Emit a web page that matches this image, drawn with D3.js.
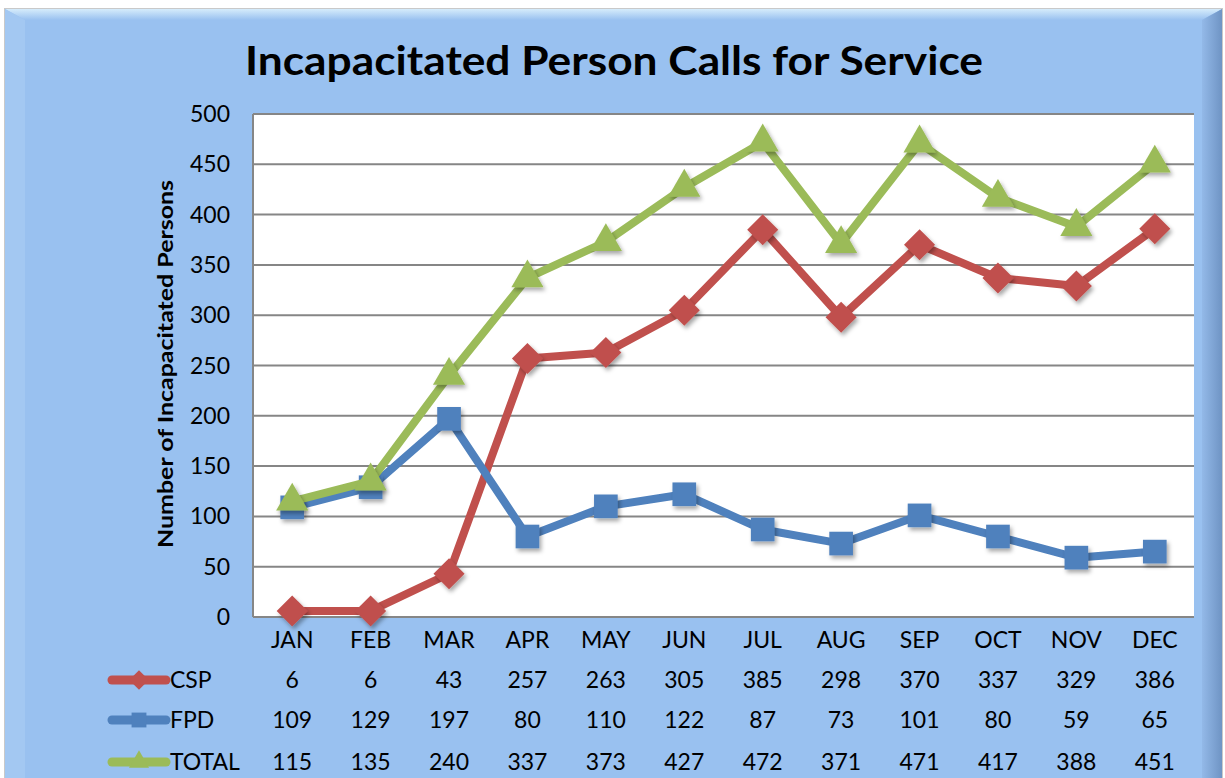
<!DOCTYPE html>
<html>
<head>
<meta charset="utf-8">
<script src="https://cdn.jsdelivr.net/npm/d3@7"></script>
<style>
  body { margin: 0; background: #fff; }
  text { font-family: Lato, "Open Sans", sans-serif; fill: #000; }
</style>
</head>
<body>
<svg id="chart" width="1225" height="778"></svg>
<script>
// data
var months = ["JAN","FEB","MAR","APR","MAY","JUN","JUL","AUG","SEP","OCT","NOV","DEC"];
var cspValues = [6, 6, 43, 257, 263, 305, 385, 298, 370, 337, 329, 386];
var fpdValues = [109, 129, 197, 80, 110, 122, 87, 73, 101, 80, 59, 65];
var totalValues = [115, 135, 240, 337, 373, 427, 472, 371, 471, 417, 388, 451];
var yTicks = [0, 50, 100, 150, 200, 250, 300, 350, 400, 450, 500];

var series = [
    {name: "CSP", values: cspValues, color: "#C0504D", marker: "diamond"},
    {name: "FPD", values: fpdValues, color: "#4F81BD", marker: "square"},
    {name: "TOTAL", values: totalValues, color: "#9BBB59", marker: "triangle"}
];

var svg = d3.select("#chart");
var defs = svg.append("defs");

// frame gradients (bevelled blue box)
var topGrad = defs.append("linearGradient").attr("id", "topEdge")
    .attr("x1", 0).attr("y1", 0).attr("x2", 0).attr("y2", 1);
topGrad.append("stop").attr("offset", 0).attr("stop-color", "#d6ecfb");
topGrad.append("stop").attr("offset", 1).attr("stop-color", "#99c1f0");
var rightGrad = defs.append("linearGradient").attr("id", "rightEdge")
    .attr("x1", 0).attr("y1", 0).attr("x2", 1).attr("y2", 0);
rightGrad.append("stop").attr("offset", 0).attr("stop-color", "#93b9e8");
rightGrad.append("stop").attr("offset", 1).attr("stop-color", "#6f94c4");

var shadow = defs.append("filter").attr("id", "shadow")
    .attr("x", "-50%").attr("y", "-50%").attr("width", "200%").attr("height", "200%");
shadow.append("feDropShadow").attr("dx", 2).attr("dy", 3).attr("stdDeviation", 2)
    .attr("flood-color", "#000").attr("flood-opacity", 0.35);

// outer box
svg.append("rect").attr("x", 4).attr("y", 8).attr("width", 1219).attr("height", 780)
    .attr("fill", "#c9c9c9");
svg.append("rect").attr("x", 5).attr("y", 9).attr("width", 1217).attr("height", 780)
    .attr("fill", "#99c1f0");
svg.append("polygon").attr("points", "5,9 1222,9 1202,20 25,20")
    .attr("fill", "url(#topEdge)");
svg.append("polygon").attr("points", "1202,20 1222,9 1222,778 1202,778")
    .attr("fill", "url(#rightEdge)");
svg.append("polygon").attr("points", "5,9 25,20 25,778 5,778")
    .attr("fill", "#a3c8f2");

var plot = {left: 253, right: 1194, top: 114, bottom: 617};

var x = d3.scaleBand().domain(months).range([plot.left, plot.right]);
var y = d3.scaleLinear().domain([0, 500]).range([plot.bottom, plot.top]);

// plot area
svg.append("rect")
    .attr("x", plot.left).attr("y", plot.top)
    .attr("width", plot.right - plot.left).attr("height", plot.bottom - plot.top)
    .attr("fill", "#fff");

svg.append("g").selectAll("line")
    .data(yTicks)
    .enter()
    .append("line")
    .attr("x1", plot.left).attr("x2", plot.right)
    .attr("y1", function(d) { return y(d); })
    .attr("y2", function(d) { return y(d); })
    .attr("stroke", "#868686").attr("stroke-width", 2);

svg.append("line")
    .attr("x1", plot.left).attr("x2", plot.left)
    .attr("y1", plot.top).attr("y2", plot.bottom)
    .attr("stroke", "#868686").attr("stroke-width", 2);

// y axis labels
svg.append("g").selectAll("text")
    .data(yTicks)
    .enter()
    .append("text")
    .attr("x", 230)
    .attr("y", function(d) { return y(d); })
    .attr("dy", "0.35em")
    .attr("text-anchor", "end")
    .style("font-size", "23px")
    .text(function(d) { return d; });

svg.append("text")
    .attr("transform", "translate(173,364) rotate(-90)")
    .attr("text-anchor", "middle")
    .attr("textLength", 368)
    .attr("lengthAdjust", "spacingAndGlyphs")
    .style("font-size", "21px")
    .style("font-weight", "bold")
    .text("Number of Incapacitated  Persons");

// title
svg.append("text")
    .attr("x", 614).attr("y", 75)
    .attr("text-anchor", "middle")
    .attr("textLength", 738)
    .attr("lengthAdjust", "spacingAndGlyphs")
    .style("font-size", "41px")
    .style("font-weight", "bold")
    .text("Incapacitated Person Calls for Service");

// month labels
svg.append("g").selectAll("text")
    .data(months)
    .enter()
    .append("text")
    .attr("x", function(d) { return x(d) + x.bandwidth() / 2; })
    .attr("y", 640)
    .attr("dy", "0.35em")
    .attr("text-anchor", "middle")
    .style("font-size", "23px")
    .text(function(d) { return d; });

var markerPath = function(type, size) {
    if (type == "diamond") {
        return d3.symbol().type(d3.symbolDiamond2).size(size * 1.1)();
    }
    else if (type == "square") {
        return d3.symbol().type(d3.symbolSquare).size(size)();
    }
    else {
        return d3.symbol().type(d3.symbolTriangle).size(size * 0.8)();
    }
};

var line = d3.line()
    .x(function(d, i) { return x(months[i]) + x.bandwidth() / 2; })
    .y(function(d) { return y(d); });

var rowY = [680, 720, 762];

series.forEach(function(s, k) {
    var g = svg.append("g");
    g.append("path")
        .attr("d", line(s.values))
        .attr("fill", "none")
        .attr("stroke", s.color)
        .attr("stroke-width", 8)
        .attr("stroke-linejoin", "round")
        .attr("stroke-linecap", "round");

    g.selectAll(".marker")
        .data(s.values)
        .enter()
        .append("path")
        .attr("class", "marker")
        .attr("d", markerPath(s.marker, 560))
        .attr("transform", function(d, i) {
            return "translate(" + (x(months[i]) + x.bandwidth() / 2) + "," + y(d) + ")";
        })
        .attr("fill", s.color)
        .attr("filter", "url(#shadow)");

    // data table row with legend key
    var ry = rowY[k];
    svg.append("line")
        .attr("x1", 112).attr("x2", 166)
        .attr("y1", ry).attr("y2", ry)
        .attr("stroke", s.color).attr("stroke-width", 9)
        .attr("stroke-linecap", "round");
    svg.append("path")
        .attr("d", markerPath(s.marker, 220))
        .attr("transform", "translate(139," + ry + ")")
        .attr("fill", s.color);
    svg.append("text")
        .attr("x", 170).attr("y", ry)
        .attr("dy", "0.35em")
        .style("font-size", "23px")
        .text(s.name);

    svg.append("g").selectAll("text")
        .data(s.values)
        .enter()
        .append("text")
        .attr("x", function(d, i) { return x(months[i]) + x.bandwidth() / 2; })
        .attr("y", ry)
        .attr("dy", "0.35em")
        .attr("text-anchor", "middle")
        .style("font-size", "23px")
        .text(function(d) { return d; });
});
</script>
</body>
</html>
